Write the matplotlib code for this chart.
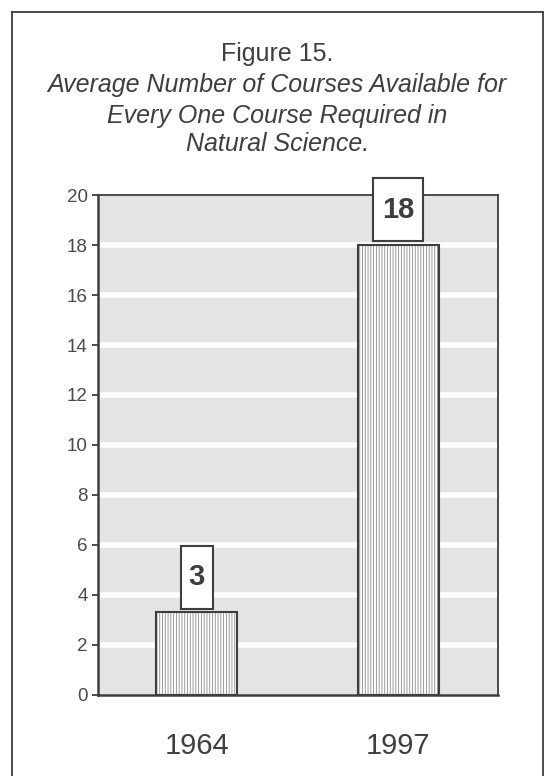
import matplotlib.pyplot as plt
from matplotlib.patches import Rectangle
from matplotlib.lines import Line2D

years = ["1964", "1997"]
values = [3.3, 18]
value_labels = ["3", "18"]
yticks = [0, 2, 4, 6, 8, 10, 12, 14, 16, 18, 20]

title_lines = [
    ("Figure 15.", "normal"),
    ("Average Number of Courses Available for", "italic"),
    ("Every One Course Required in", "italic"),
    ("Natural Science.", "italic"),
]

ink = "#3e3e3e"
plt.rcParams["font.family"] = ["Liberation Sans", "DejaVu Sans"]
plt.rcParams["hatch.linewidth"] = 0.6
plt.rcParams["hatch.color"] = "#8a8a8a"

fig = plt.figure(figsize=(5.49, 7.76), dpi=100)
fig.patch.set_facecolor("white")

# outer frame of the figure box (bottom runs off the page)
for xs, ys in [([0.022, 0.022], [-0.05, 0.985]),
               ([0.022, 0.989], [0.985, 0.985]),
               ([0.989, 0.989], [0.985, -0.05])]:
    fig.add_artist(Line2D(xs, ys, transform=fig.transFigure, color=ink, lw=1.3))

# title
title_y = [0.931, 0.890, 0.851, 0.815]
for (line, style), y in zip(title_lines, title_y):
    fig.text(0.505, y, line, ha="center", va="center", fontsize=18,
             style=style, color=ink)

ax = fig.add_axes([0.1785, 0.1044, 0.7286, 0.6443])
ax.set_facecolor("#e4e4e4")
ax.set_ylim(0, 20)
ax.set_xlim(-0.49, 1.495)

for y in yticks[1:-1]:
    ax.axhline(y, color="white", lw=4, zorder=1)

x = list(range(len(years)))
width = 0.40
ax.bar(x, values, width=width, color="white", edgecolor="#8a8a8a",
       hatch="||||||", linewidth=0, zorder=2)
ax.bar(x, values, width=width, fill=False, edgecolor=ink, linewidth=1.5, zorder=3)

# value boxes above each bar
box_h = 2.52
for xi, v, lab in zip(x, values, value_labels):
    bw = 0.16 if len(lab) == 1 else 0.25
    ax.add_patch(Rectangle((xi - bw / 2, v + 0.15), bw, box_h, facecolor="white",
                           edgecolor=ink, lw=1.5, zorder=4, clip_on=False))
    ax.text(xi, v + 0.15 + box_h / 2, lab, ha="center", va="center",
            fontsize=21, fontweight="bold", color=ink, zorder=5, clip_on=False)

for side in ["left", "bottom", "top", "right"]:
    ax.spines[side].set_color(ink)
    ax.spines[side].set_linewidth(1.3)
ax.spines["left"].set_linewidth(1.8)
ax.spines["bottom"].set_linewidth(1.8)

ax.set_yticks(yticks)
ax.set_yticklabels([str(t) for t in yticks])
ax.tick_params(axis="y", length=4.5, width=1.3, color=ink, labelsize=13.5,
               labelcolor="#4a4a4a", pad=3)
ax.set_xticks(x)
ax.set_xticklabels(years)
ax.tick_params(axis="x", length=0, labelsize=21, labelcolor=ink, pad=27)

fig.savefig("out.png", dpi=100)
